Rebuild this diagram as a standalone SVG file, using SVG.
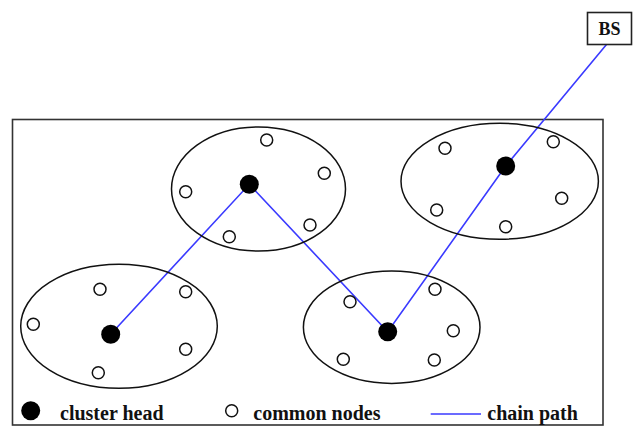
<svg xmlns="http://www.w3.org/2000/svg" width="634" height="428" viewBox="0 0 634 428">
  <style>
    .frame { fill: #fff; stroke: #333; stroke-width: 1.6; }
    .cluster { fill: none; stroke: #111; stroke-width: 1.5; }
    .head { fill: #000; }
    .node { fill: #fff; stroke: #111; stroke-width: 1.5; }
    .chain { fill: none; stroke: #3a3aff; stroke-width: 1.6; }
    .label { font-family: "Liberation Serif", "Times New Roman", serif; font-weight: bold; fill: #111; }
  </style>
  <rect width="634" height="428" fill="#fff"/>
  <rect class="frame" x="12.5" y="119.5" width="590.5" height="305.5"/>

  <g id="connectors">
    <polyline class="chain" points="110.7,334.3 249.3,184.3 387.7,331.7 505.7,166 606.7,44.3"/>
  </g>

  <g id="bs">
    <rect x="587.5" y="12.5" width="44" height="32" fill="#fff" stroke="#222" stroke-width="1.6"/>
    <text class="label" x="609.5" y="34.5" font-size="18" text-anchor="middle">BS</text>
  </g>

  <g id="cluster-top">
    <ellipse class="cluster" cx="258.5" cy="189" rx="87" ry="62"/>
    <circle class="node" cx="266.7" cy="140" r="6"/>
    <circle class="node" cx="324.3" cy="173.3" r="6"/>
    <circle class="node" cx="185.7" cy="191.7" r="6"/>
    <circle class="node" cx="310" cy="225" r="6"/>
    <circle class="node" cx="229.3" cy="236.7" r="6"/>
    <circle class="head" cx="249.3" cy="184.3" r="9.5"/>
  </g>

  <g id="cluster-left">
    <ellipse class="cluster" cx="119" cy="326.3" rx="98.3" ry="62"/>
    <circle class="node" cx="100" cy="289.3" r="6"/>
    <circle class="node" cx="185.7" cy="291.7" r="6"/>
    <circle class="node" cx="33.3" cy="324.3" r="6"/>
    <circle class="node" cx="185.7" cy="349.3" r="6"/>
    <circle class="node" cx="98.3" cy="372.7" r="6"/>
    <circle class="head" cx="110.7" cy="334.3" r="9.5"/>
  </g>

  <g id="cluster-right">
    <ellipse class="cluster" cx="499.7" cy="181.3" rx="98.7" ry="58"/>
    <circle class="node" cx="445" cy="148.3" r="6"/>
    <circle class="node" cx="553.3" cy="141.7" r="6"/>
    <circle class="node" cx="561.7" cy="198.3" r="6"/>
    <circle class="node" cx="436.7" cy="210" r="6"/>
    <circle class="node" cx="505.7" cy="226.7" r="6"/>
    <circle class="head" cx="505.7" cy="166" r="9.5"/>
  </g>

  <g id="cluster-middle">
    <ellipse class="cluster" cx="391.7" cy="327.2" rx="88.3" ry="56.2"/>
    <circle class="node" cx="350" cy="301.7" r="6"/>
    <circle class="node" cx="435" cy="289.3" r="6"/>
    <circle class="node" cx="453.3" cy="330.7" r="6"/>
    <circle class="node" cx="343.3" cy="359.3" r="6"/>
    <circle class="node" cx="434.3" cy="360" r="6"/>
    <circle class="head" cx="387.7" cy="331.7" r="9.5"/>
  </g>

  <g id="legend">
    <circle class="head" cx="30.7" cy="410.7" r="9.5"/>
    <text class="label" x="60" y="420" font-size="20">cluster head</text>
    <circle class="node" cx="231.7" cy="410.7" r="6"/>
    <text class="label" x="253.3" y="420" font-size="20">common nodes</text>
    <line class="chain" x1="430.7" y1="414" x2="481" y2="414"/>
    <text class="label" x="487.3" y="420" font-size="20">chain path</text>
  </g>
</svg>
